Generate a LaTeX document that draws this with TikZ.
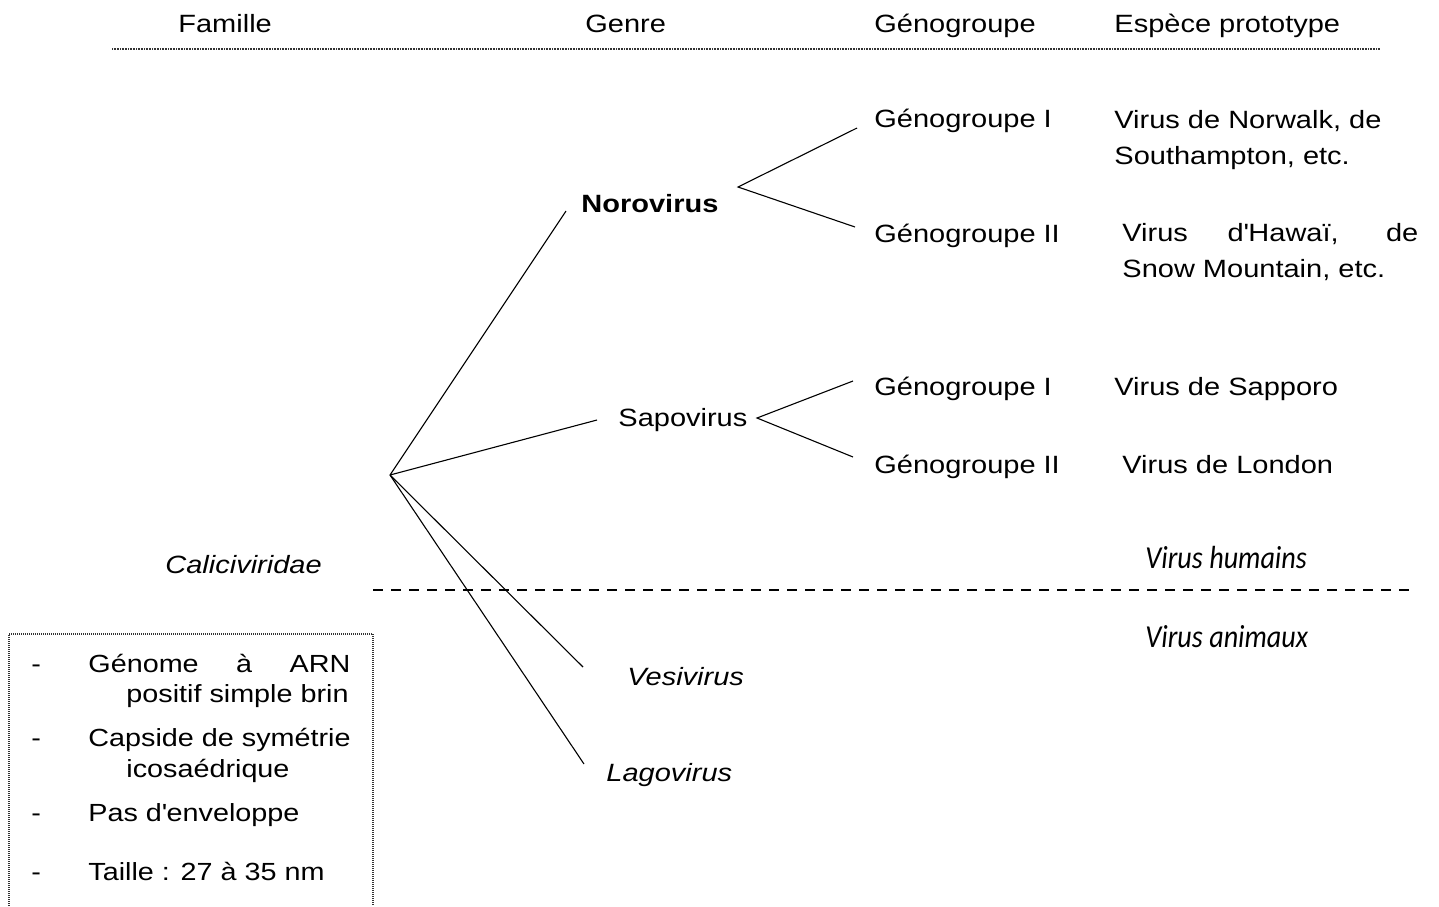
\documentclass[tikz,border=0pt]{standalone}
\usepackage{fontspec}
\setmainfont{Liberation Sans}[FakeStretch=1.16]
\newfontfamily\humfont{Carlito}[FakeStretch=0.88]
\begin{document}
\begin{tikzpicture}[x=0.5pt,y=-0.5pt,
  lbl/.style={anchor=base west,inner sep=0pt,font=\fontsize{12.5}{15}\selectfont},
  lblit/.style={anchor=base west,inner sep=0pt,font=\fontsize{12.5}{15}\selectfont\itshape},
  lblbf/.style={anchor=base west,inner sep=0pt,font=\fontsize{12.5}{15}\selectfont\bfseries},
  boxlbl/.style={anchor=base west,inner sep=0pt,font=\fontsize{12.4}{15}\selectfont},
  hum/.style={anchor=base west,inner sep=0pt,font=\fontsize{16}{18}\humfont\itshape},
  conn/.style={line width=0.55pt,black},
  sep/.style={line width=1.1pt,black,dash pattern=on 5pt off 4pt},
  hdrline/.style={line width=0.7pt,black!80,dash pattern=on 0.4pt off 0.4pt},
  boxline/.style={line width=0.7pt,black!80,dash pattern=on 0.5pt off 0.5pt}]
\useasboundingbox (0,0) rectangle (1439,906);

% header
\node[lbl] (hfam) at (178,32) {Famille};
\node[lbl] (hgen) at (585,32) {Genre};
\node[lbl] (hgeno) at (874,32) {Génogroupe};
\node[lbl] (hesp) at (1114,32) {Espèce prototype};
\coordinate (hl1) at (112,49);
\coordinate (hl2) at (1380,49);
\draw[hdrline] (hl1) -- (hl2);

% genera
\node[lblbf] (noro) at (581,212) {Norovirus};
\node[lbl] (sapo) at (618,426) {Sapovirus};
\node[lblit] (vesi) at (627,685) {Vesivirus};
\node[lblit] (lago) at (606,781) {Lagovirus};
\node[lblit] (cali) at (165,573) {Caliciviridae};

% genogroups
\node[lbl] (ng1) at (874,127) {Génogroupe I};
\node[lbl] (ng2) at (874,242) {Génogroupe II};
\node[lbl] (sg1) at (874,395) {Génogroupe I};
\node[lbl] (sg2) at (874,473) {Génogroupe II};

% species
\node[lbl] (sp1a) at (1114,128) {Virus de Norwalk, de};
\node[lbl] (sp1b) at (1114,164) {Southampton, etc.};
\node[lbl] (sp2a) at (1122,241) {\makebox[148pt][s]{Virus d\textquotesingle Hawaï, de}};
\node[lbl] (sp2b) at (1122,277) {Snow Mountain, etc.};
\node[lbl] (sp3) at (1114,395) {Virus de Sapporo};
\node[lbl] (sp4) at (1122,473) {Virus de London};

% human / animal
\node[hum] (vh) at (1145,568) {Virus humains};
\node[hum] (va) at (1145,647) {Virus animaux};
\coordinate (d1) at (373,590);
\coordinate (d2) at (1410,590);
\draw[sep] (d1) -- (d2);

% tree
\coordinate (root) at (390,475);
\coordinate (noroIn) at (566,211);
\coordinate (sapoIn) at (597,420);
\coordinate (vesiIn) at (583,667);
\coordinate (lagoIn) at (584,764);
\coordinate (noroOut) at (738,187);
\coordinate (ng1In) at (857,128);
\coordinate (ng2In) at (855,227);
\coordinate (sapoOut) at (757,418);
\coordinate (sg1In) at (853,381);
\coordinate (sg2In) at (853,457);
\draw[conn] (root) -- (noroIn);
\draw[conn] (root) -- (sapoIn);
\draw[conn] (root) -- (vesiIn);
\draw[conn] (root) -- (lagoIn);
\draw[conn] (ng1In) -- (noroOut) -- (ng2In);
\draw[conn] (sg1In) -- (sapoOut) -- (sg2In);

% characteristics box
\coordinate (b1) at (9,906);
\coordinate (b2) at (9,634);
\coordinate (b3) at (373,634);
\coordinate (b4) at (373,906);
\draw[boxline] (b1) -- (b2) -- (b3) -- (b4);
\node[boxlbl] (k1d) at (31,672) {-};
\node[boxlbl] (k1a) at (88,672) {\makebox[131pt][s]{Génome à ARN}};
\node[boxlbl] (k1b) at (126,702) {positif simple brin};
\node[boxlbl] (k2d) at (31,746) {-};
\node[boxlbl] (k2a) at (88,746) {Capside de symétrie};
\node[boxlbl] (k2b) at (126,777) {icosaédrique};
\node[boxlbl] (k3d) at (31,821) {-};
\node[boxlbl] (k3a) at (88,821) {Pas d\textquotesingle enveloppe};
\node[boxlbl] (k4d) at (31,880) {-};
\node[boxlbl] (k4a) at (88,880) {Taille : 27 à 35 nm};
\end{tikzpicture}
\end{document}
